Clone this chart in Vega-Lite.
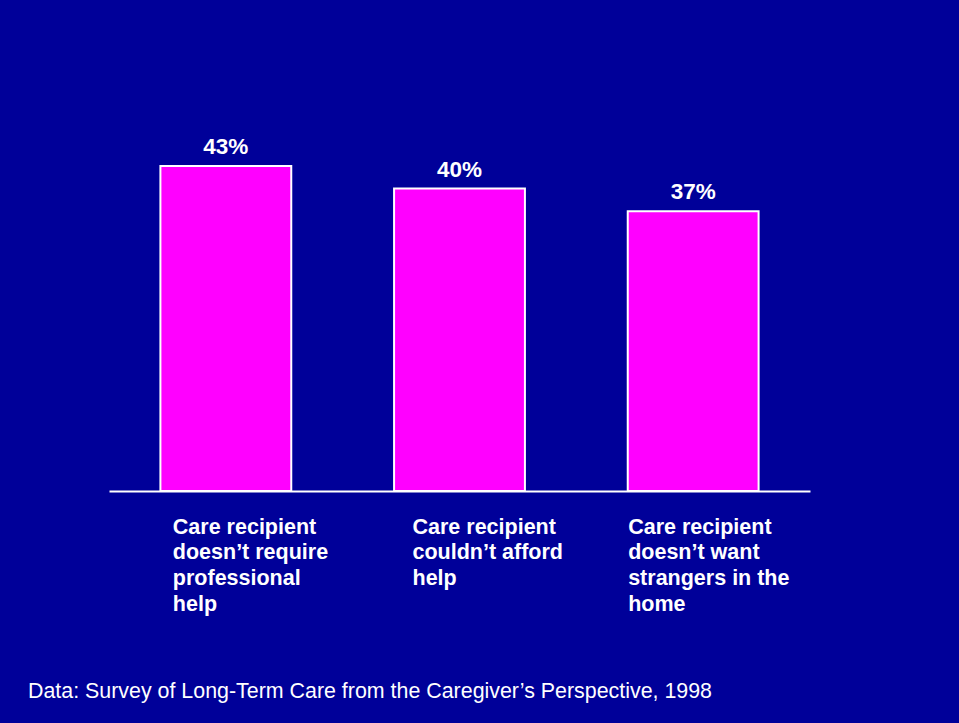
{
  "$schema": "https://vega.github.io/schema/vega-lite/v6.json",
  "width": 701,
  "height": 378,
  "autosize": {"type": "none"},
  "padding": {"left": 109, "top": 113, "right": 149, "bottom": 232},
  "background": "#000099",
  "config": {"view": {"stroke": null}, "font": "Liberation Sans"},
  "title": {
    "text": "Data: Survey of Long-Term Care from the Caregiver’s Perspective, 1998",
    "orient": "bottom",
    "anchor": "start",
    "color": "white",
    "fontSize": 21.4,
    "fontWeight": "normal",
    "font": "Liberation Sans",
    "dx": -81,
    "offset": 66
  },
  "data": {
    "values": [
      {"reason": "Care recipient|doesn’t require|professional|help", "share": 0.43},
      {"reason": "Care recipient|couldn’t afford|help", "share": 0.40},
      {"reason": "Care recipient|doesn’t want|strangers in the|home", "share": 0.37}
    ]
  },
  "encoding": {
    "x": {
      "field": "reason",
      "type": "nominal",
      "sort": null,
      "scale": {"paddingInner": 0.44, "paddingOuter": 0.22},
      "axis": {
        "title": null,
        "labelExpr": "split(datum.label, '|')",
        "labelAngle": 0,
        "labelAlign": "left",
        "labelBaseline": "top",
        "labelColor": "white",
        "labelFont": "Liberation Sans",
        "labelFontSize": 21.5,
        "labelFontWeight": "bold",
        "labelLineHeight": 25.7,
        "labelPadding": 25,
        "labelLimit": 400,
        "labelOverlap": false,
        "labelBound": false,
        "labelFlush": false,
        "labelOffset": {
          "condition": [
            {"test": "indexof(datum.value, 'require') >= 0", "value": -53},
            {"test": "indexof(datum.value, 'afford') >= 0", "value": -47}
          ],
          "value": -65
        },
        "ticks": false,
        "domain": true,
        "domainColor": "white",
        "domainWidth": 2
      }
    },
    "y": {
      "field": "share",
      "type": "quantitative",
      "scale": {"domain": [0, 0.5]},
      "axis": null
    }
  },
  "layer": [
    {
      "mark": {"type": "bar", "color": "#FF00FF", "stroke": "white", "strokeWidth": 2}
    },
    {
      "mark": {
        "type": "text",
        "color": "white",
        "fontSize": 22.5,
        "fontWeight": "bold",
        "font": "Liberation Sans",
        "baseline": "alphabetic",
        "dy": -12
      },
      "encoding": {
        "text": {"field": "share", "type": "quantitative", "format": ".0%"}
      }
    }
  ]
}
